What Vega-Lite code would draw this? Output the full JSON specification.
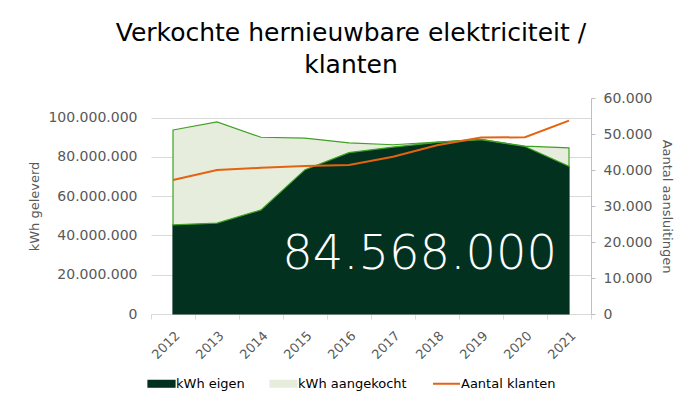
{
  "$schema": "https://vega.github.io/schema/vega-lite/v6.json",
  "autosize": {"type": "none"},
  "width": 440,
  "height": 216,
  "padding": {"left": 151, "top": 98, "right": 106, "bottom": 86},
  "background": "white",
  "title": {
    "text": ["Verkochte hernieuwbare elektriciteit /", "klanten"],
    "font": "DejaVu Sans",
    "fontSize": 25,
    "fontWeight": "normal",
    "color": "#000000",
    "anchor": "middle",
    "frame": "bounds",
    "lineHeight": 32,
    "offset": 13
  },
  "config": {
    "locale": {"number": {"decimal": ",", "thousands": ".", "grouping": [3], "currency": ["€", ""]}},
    "view": {"stroke": null},
    "font": "DejaVu Sans",
    "axis": {"labelFont": "DejaVu Sans", "titleFont": "DejaVu Sans", "labelColor": "#595959", "titleColor": "#595959", "titleFontWeight": "normal"},
    "legend": {
      "title": null,
      "orient": "none",
      "direction": "horizontal",
      "legendX": 4,
      "legendY": 279,
      "labelFont": "DejaVu Sans",
      "labelFontSize": 13,
      "labelColor": "#000000",
      "labelOffset": 8,
      "columnPadding": 22,
      "symbolSize": 729,
      "symbolType": "M-1,-0.25H1V0.25H-1Z"
    }
  },
  "datasets": {
    "kwh": [
      {"jaar": "2012", "serie": "kWh eigen", "kwh": 45400000},
      {"jaar": "2013", "serie": "kWh eigen", "kwh": 46300000},
      {"jaar": "2014", "serie": "kWh eigen", "kwh": 53000000},
      {"jaar": "2015", "serie": "kWh eigen", "kwh": 73500000},
      {"jaar": "2016", "serie": "kWh eigen", "kwh": 82200000},
      {"jaar": "2017", "serie": "kWh eigen", "kwh": 85000000},
      {"jaar": "2018", "serie": "kWh eigen", "kwh": 87400000},
      {"jaar": "2019", "serie": "kWh eigen", "kwh": 88800000},
      {"jaar": "2020", "serie": "kWh eigen", "kwh": 85300000},
      {"jaar": "2021", "serie": "kWh eigen", "kwh": 75200000},
      {"jaar": "2012", "serie": "kWh aangekocht", "kwh": 48300000},
      {"jaar": "2013", "serie": "kWh aangekocht", "kwh": 51500000},
      {"jaar": "2014", "serie": "kWh aangekocht", "kwh": 37000000},
      {"jaar": "2015", "serie": "kWh aangekocht", "kwh": 16100000},
      {"jaar": "2016", "serie": "kWh aangekocht", "kwh": 4900000},
      {"jaar": "2017", "serie": "kWh aangekocht", "kwh": 1200000},
      {"jaar": "2018", "serie": "kWh aangekocht", "kwh": 200000},
      {"jaar": "2019", "serie": "kWh aangekocht", "kwh": 100000},
      {"jaar": "2020", "serie": "kWh aangekocht", "kwh": 200000},
      {"jaar": "2021", "serie": "kWh aangekocht", "kwh": 9368000}
    ],
    "klanten": [
      {"jaar": "2012", "klanten": 37200},
      {"jaar": "2013", "klanten": 40000},
      {"jaar": "2014", "klanten": 40600},
      {"jaar": "2015", "klanten": 41100},
      {"jaar": "2016", "klanten": 41400},
      {"jaar": "2017", "klanten": 43700},
      {"jaar": "2018", "klanten": 46900},
      {"jaar": "2019", "klanten": 49000},
      {"jaar": "2020", "klanten": 49100},
      {"jaar": "2021", "klanten": 53700}
    ],
    "totaal": [
      {"jaar": "2021", "label": "84.568.000", "pos": 23000000}
    ]
  },
  "encoding": {
    "x": {
      "field": "jaar",
      "type": "ordinal",
      "scale": {"type": "band", "paddingInner": 0, "paddingOuter": 0},
      "axis": {
        "title": null,
        "labelAngle": 315,
        "labelFontSize": 13,
        "tickBand": "extent",
        "tickColor": "#D9D9D9",
        "tickSize": 5,
        "domainColor": "#D9D9D9",
        "labelPadding": 10,
        "grid": false
      }
    }
  },
  "layer": [
    {
      "layer": [
        {
          "data": {"name": "kwh"},
          "mark": {"type": "area", "strokeWidth": 1.2, "opacity": 1},
          "encoding": {
            "x": {"field": "jaar", "type": "ordinal", "bandPosition": 0.5},
            "y": {
              "field": "kwh",
              "type": "quantitative",
              "stack": "zero",
              "scale": {"domain": [0, 110000000], "nice": false},
              "axis": {
                "title": "kWh geleverd",
                "titleFontSize": 13,
                "titlePadding": 6,
                "values": [0, 20000000, 40000000, 60000000, 80000000, 100000000],
                "format": ",d",
                "labelFontSize": 14,
                "labelPadding": 14,
                "ticks": false,
                "domain": false,
                "grid": true,
                "gridColor": "#D9D9D9"
              }
            },
            "color": {
              "field": "serie",
              "type": "nominal",
              "scale": {"domain": ["kWh eigen", "kWh aangekocht", "Aantal klanten"], "range": ["#03311F", "#E6EDDC", "#E5620F"]},
              "legend": {
                "encode": {
                  "symbols": {
                    "update": {
                      "shape": {"signal": "datum.value === 'Aantal klanten' ? 'M-1,0H1' : 'M-1,-0.25H1V0.25H-1Z'"},
                      "stroke": {"signal": "datum.value === 'kWh eigen' ? '#03311F' : datum.value === 'kWh aangekocht' ? '#3FA123' : '#E5620F'"},
                      "fill": {"signal": "datum.value === 'kWh eigen' ? '#03311F' : datum.value === 'kWh aangekocht' ? '#E6EDDC' : 'transparent'"},
                      "strokeWidth": {"signal": "datum.value === 'Aantal klanten' ? 2 : 1.2"},
                      "opacity": {"value": 1}
                    }
                  }
                }
              }
            },
            "stroke": {
              "field": "serie",
              "type": "nominal",
              "scale": {"domain": ["kWh eigen", "kWh aangekocht"], "range": ["#03311F", "#3FA123"]},
              "legend": null
            },
            "order": {"field": "serie", "sort": "descending"}
          }
        },
        {
          "data": {"name": "totaal"},
          "mark": {"type": "text", "font": "DejaVu Sans", "fontSize": 48, "fontWeight": 300, "color": "#FFFFFF", "align": "right", "baseline": "alphabetic", "dx": -12},
          "encoding": {
            "x": {"field": "jaar", "type": "ordinal", "bandPosition": 0.5},
            "y": {"field": "pos", "type": "quantitative"},
            "text": {"field": "label"}
          }
        }
      ]
    },
    {
      "data": {"name": "klanten"},
      "mark": {"type": "line", "strokeWidth": 2, "color": "#E5620F"},
      "encoding": {
        "x": {"field": "jaar", "type": "ordinal", "bandPosition": 0.5},
        "y": {
          "field": "klanten",
          "type": "quantitative",
          "scale": {"domain": [0, 60000], "nice": false},
          "axis": {
            "orient": "right",
            "title": "Aantal aansluitingen",
            "titleFontSize": 13,
            "titlePadding": 8,
            "values": [0, 10000, 20000, 30000, 40000, 50000, 60000],
            "format": ",d",
            "labelFontSize": 14,
            "labelPadding": 8,
            "tickSize": 4,
            "tickColor": "#BFBFBF",
            "domainColor": "#BFBFBF",
            "grid": false
          }
        },
        "color": {
          "datum": "Aantal klanten",
          "legend": {
            "encode": {
              "symbols": {
                "update": {
                  "shape": {"signal": "datum.value === 'Aantal klanten' ? 'M-1,0H1' : 'M-1,-0.25H1V0.25H-1Z'"},
                  "stroke": {"signal": "datum.value === 'kWh eigen' ? '#03311F' : datum.value === 'kWh aangekocht' ? '#3FA123' : '#E5620F'"},
                  "fill": {"signal": "datum.value === 'kWh eigen' ? '#03311F' : datum.value === 'kWh aangekocht' ? '#E6EDDC' : 'transparent'"},
                  "strokeWidth": {"signal": "datum.value === 'Aantal klanten' ? 2 : 1.2"},
                  "opacity": {"value": 1}
                }
              }
            }
          }
        }
      }
    }
  ],
  "resolve": {"scale": {"y": "independent", "stroke": "independent"}}
}
